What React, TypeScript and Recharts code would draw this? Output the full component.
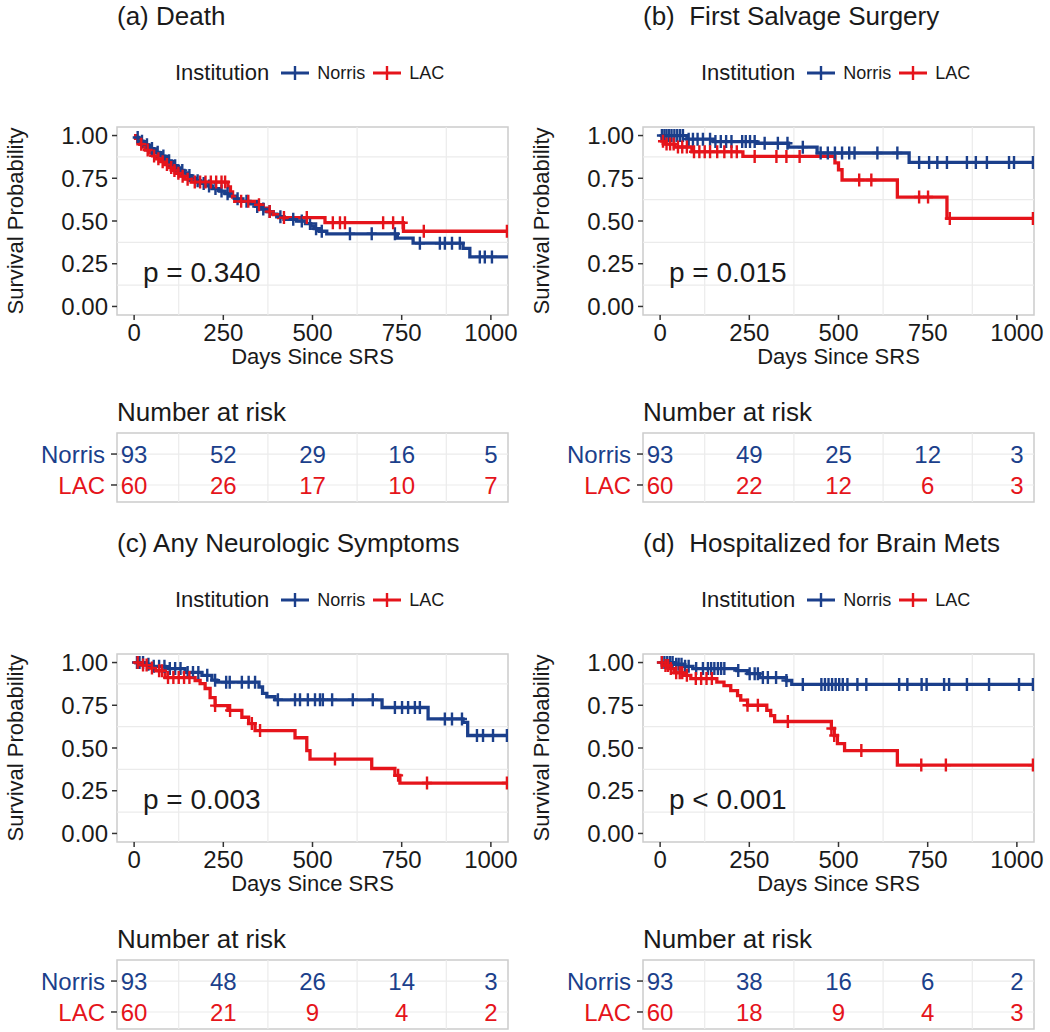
import React from 'react';
import {
  LineChart,
  Line,
  XAxis,
  YAxis,
  ReferenceLine,
  ReferenceArea,
  ScatterChart,
  Scatter,
} from 'recharts';

type Step = [number, number];

// axes
const DAY_TICKS = [0, 250, 500, 750, 1000];
const MINOR_DAYS = [125, 375, 625, 875];
const PROB_TICKS = [0, 0.25, 0.5, 0.75, 1];
const MINOR_PROB = [0.125, 0.375, 0.625, 0.875];
const RISK_TIMES = [0, 250, 500, 750, 1000];
const LAST_FOLLOW_UP = 1048;

// (a) Death
const deathNorrisSteps: Step[] = [
  [0, 1], [6, 0.989], [12, 0.978], [18, 0.967], [25, 0.957], [32, 0.946], [40, 0.935],
  [47, 0.924], [55, 0.913], [62, 0.902], [70, 0.891], [78, 0.88], [86, 0.866], [95, 0.852],
  [104, 0.838], [112, 0.824], [121, 0.81], [130, 0.796], [140, 0.781], [150, 0.766],
  [160, 0.751], [172, 0.736], [185, 0.72], [200, 0.705], [218, 0.69], [240, 0.675],
  [255, 0.66], [268, 0.645], [285, 0.63], [305, 0.615], [325, 0.6], [340, 0.585],
  [355, 0.57], [370, 0.555], [385, 0.54], [400, 0.525], [420, 0.51], [455, 0.5],
  [480, 0.485], [495, 0.47], [505, 0.455], [520, 0.44], [540, 0.425], [738, 0.4],
  [782, 0.37], [922, 0.34], [941, 0.29],
];
const deathNorrisCensors = [
  10, 22, 36, 50, 66, 82, 98, 115, 135, 155, 178, 195, 210, 228, 245, 262, 290, 315, 345,
  362, 380, 410, 446, 470, 493, 510, 526, 605, 666, 731, 801, 857, 871, 891, 913, 969, 983, 1003,
];
const deathLacSteps: Step[] = [
  [0, 1], [4, 0.983], [10, 0.966], [16, 0.949], [24, 0.932], [32, 0.915], [42, 0.898],
  [52, 0.881], [63, 0.864], [75, 0.847], [86, 0.83], [97, 0.813], [108, 0.796], [118, 0.779],
  [128, 0.762], [142, 0.745], [160, 0.728], [263, 0.7], [270, 0.67], [276, 0.64],
  [282, 0.615], [345, 0.595], [362, 0.575], [375, 0.555], [390, 0.537], [405, 0.52],
  [535, 0.49], [755, 0.44],
];
const deathLacCensors = [
  20, 38, 56, 68, 80, 92, 104, 113, 124, 136, 150, 170, 185, 200, 215, 230, 245, 255, 300,
  320, 350, 380, 420, 484, 557, 577, 591, 698, 726, 753, 812, 1045,
];
const deathRiskNorris = [93, 52, 29, 16, 5];
const deathRiskLac = [60, 26, 17, 10, 7];

// (b) First salvage surgery
const salvageNorrisSteps: Step[] = [
  [0, 1], [75, 0.979], [150, 0.965], [270, 0.955], [360, 0.932], [440, 0.898], [698, 0.843],
];
const salvageNorrisCensors = [
  5, 12, 18, 25, 32, 40, 48, 56, 64, 80, 92, 105, 120, 140, 155, 170, 185, 200, 230, 240,
  252, 265, 293, 330, 357, 400, 450, 470, 490, 510, 530, 545, 609, 665, 726, 754, 777, 804,
  860, 885, 916, 978, 992, 1045,
];
const salvageLacSteps: Step[] = [
  [0, 1], [5, 0.967], [15, 0.95], [40, 0.933], [89, 0.905], [232, 0.878], [490, 0.84],
  [500, 0.8], [510, 0.74], [665, 0.64], [804, 0.515],
];
const salvageLacCensors = [
  8, 18, 28, 38, 50, 62, 75, 95, 110, 125, 140, 160, 180, 200, 215, 265, 326, 354, 391, 558,
  592, 726, 751, 812, 1045,
];
const salvageRiskNorris = [93, 49, 25, 12, 3];
const salvageRiskLac = [60, 22, 12, 6, 3];

// (c) Any neurologic symptoms
const neuroNorrisSteps: Step[] = [
  [0, 1], [30, 0.99], [50, 0.978], [87, 0.965], [143, 0.942], [190, 0.925], [218, 0.897],
  [232, 0.885], [350, 0.857], [360, 0.82], [372, 0.8], [395, 0.782], [695, 0.737],
  [824, 0.67], [922, 0.65], [935, 0.573],
];
const neuroNorrisCensors = [
  8, 15, 25, 40, 55, 70, 85, 100, 115, 130, 150, 165, 180, 205, 227, 258, 268, 302, 321, 339,
  403, 451, 465, 487, 507, 521, 529, 555, 613, 669, 731, 751, 768, 787, 801, 871, 891, 919,
  961, 978, 1006, 1045,
];
const neuroLacSteps: Step[] = [
  [0, 1], [20, 0.985], [45, 0.968], [60, 0.952], [87, 0.912], [171, 0.895], [185, 0.877],
  [199, 0.848], [213, 0.795], [227, 0.748], [263, 0.72], [302, 0.68], [321, 0.643],
  [339, 0.602], [451, 0.56], [484, 0.485], [493, 0.435], [666, 0.38], [731, 0.34], [745, 0.295],
];
const neuroLacCensors = [
  10, 25, 35, 50, 70, 78, 95, 110, 125, 140, 155, 227, 269, 330, 353, 563, 740, 821, 1045,
];
const neuroRiskNorris = [93, 48, 26, 14, 3];
const neuroRiskLac = [60, 21, 9, 4, 2];

// (d) Hospitalized for brain mets
const hospNorrisSteps: Step[] = [
  [0, 1], [40, 0.99], [64, 0.978], [92, 0.965], [215, 0.953], [245, 0.935], [279, 0.912],
  [354, 0.895], [369, 0.872],
];
const hospNorrisCensors = [
  5, 12, 20, 28, 35, 45, 52, 60, 70, 80, 101, 120, 134, 143, 152, 162, 171, 180, 219, 251,
  265, 274, 288, 302, 325, 354, 400, 452, 462, 472, 482, 492, 502, 512, 525, 553, 578, 670,
  693, 733, 747, 796, 810, 860, 922, 1006, 1045,
];
const hospLacSteps: Step[] = [
  [0, 1], [10, 0.983], [25, 0.965], [39, 0.94], [67, 0.925], [86, 0.906], [159, 0.885],
  [179, 0.865], [198, 0.836], [217, 0.807], [226, 0.78], [245, 0.75], [299, 0.72],
  [310, 0.69], [321, 0.655], [480, 0.614], [488, 0.573], [497, 0.526], [517, 0.485], [665, 0.4],
];
const hospLacCensors = [
  5, 15, 22, 30, 45, 55, 62, 75, 100, 115, 130, 145, 245, 274, 358, 480, 488, 564, 732, 801, 1045,
];
const hospRiskNorris = [93, 38, 16, 6, 2];
const hospRiskLac = [60, 18, 9, 4, 3];

const BLUE = '#1B3F8B';
const RED = '#E5141B';
const FONT = '"Liberation Sans", Arial, sans-serif';
const TEXT = '#1a1a1a';
const GRID = '#EBEBEB';
const BORDER = '#CCCCCC';
const TICK = '#333333';

const X_DOMAIN: [number, number] = [-48, 1048];
const Y_DOMAIN: [number, number] = [-0.05, 1.05];

// KM value at time t (step lookup)
const survAt = (steps: Step[], t: number) => {
  let s = 1;
  for (const [st, sv] of steps) if (st <= t) s = sv;
  return s;
};

const buildCurve = (steps: Step[], censors: number[]) => {
  const pts = [
    ...steps.map(([t, s]) => ({ t, s, c: false })),
    ...censors.map((t) => ({ t, s: survAt(steps, t), c: true })),
  ];
  pts.push({ t: LAST_FOLLOW_UP, s: steps[steps.length - 1][1], c: false });
  return pts.sort((a, b) => a.t - b.t || Number(a.c) - Number(b.c));
};

const crossDot = (color: string) => (props: any) => {
  const { cx, cy, payload, index } = props;
  if (!payload || !payload.c || cx == null || cy == null) return <g key={`n-${index}`} />;
  return (
    <path
      key={`c-${index}`}
      d={`M${cx - 5},${cy}H${cx + 5}M${cx},${cy - 6.5}V${cy + 6.5}`}
      stroke={color}
      strokeWidth={2.4}
      fill="none"
    />
  );
};

const LegendKey = ({ color }: { color: string }) => (
  <svg width={28} height={14} style={{ display: 'block' }}>
    <line x1={0} y1={7} x2={28} y2={7} stroke={color} strokeWidth={3} />
    <line x1={14} y1={0} x2={14} y2={14} stroke={color} strokeWidth={2.4} />
  </svg>
);

type PanelProps = {
  left: number;
  top: number;
  title: string;
  pValue: string;
  norrisSteps: Step[];
  norrisCensors: number[];
  lacSteps: Step[];
  lacCensors: number[];
  riskNorris: number[];
  riskLac: number[];
};

const Panel = (p: PanelProps) => {
  const norris = buildCurve(p.norrisSteps, p.norrisCensors);
  const lac = buildCurve(p.lacSteps, p.lacCensors);
  const riskN = RISK_TIMES.map((t, i) => ({ t, row: 2, n: p.riskNorris[i] }));
  const riskL = RISK_TIMES.map((t, i) => ({ t, row: 1, n: p.riskLac[i] }));
  const tickStyle = { fontSize: 24, fill: TEXT, fontFamily: FONT };

  return (
    <div style={{ position: 'absolute', left: p.left, top: p.top, width: 525, height: 516 }}>
      <div
        style={{
          position: 'absolute', left: 117, top: 3, fontSize: 26, lineHeight: 1,
          whiteSpace: 'pre', color: TEXT,
        }}
      >
        {p.title}
      </div>

      <div
        style={{
          position: 'absolute', left: 175, top: 62, height: 22, display: 'flex',
          alignItems: 'center', whiteSpace: 'pre', color: TEXT,
        }}
      >
        <span style={{ fontSize: 22, lineHeight: 1, marginRight: 12 }}>Institution</span>
        <LegendKey color={BLUE} />
        <span style={{ fontSize: 18, lineHeight: 1, margin: '0 8px 0 8px' }}>Norris</span>
        <LegendKey color={RED} />
        <span style={{ fontSize: 18, lineHeight: 1, marginLeft: 8 }}>LAC</span>
      </div>

      <div style={{ position: 'absolute', left: 0, top: 0 }}>
        <LineChart width={525} height={375} margin={{ top: 127, right: 17, bottom: 0, left: 0 }}>
          <ReferenceArea
            x1={X_DOMAIN[0]} x2={X_DOMAIN[1]} y1={Y_DOMAIN[0]} y2={Y_DOMAIN[1]}
            fill="#fff" fillOpacity={1} stroke={BORDER} strokeWidth={1.5}
          />
          {MINOR_DAYS.map((v) => (
            <ReferenceLine key={`vx${v}`} x={v} stroke={GRID} strokeWidth={1.2} />
          ))}
          {MINOR_PROB.map((v) => (
            <ReferenceLine key={`hy${v}`} y={v} stroke={GRID} strokeWidth={1.2} />
          ))}
          <XAxis
            type="number"
            dataKey="t"
            domain={X_DOMAIN}
            ticks={DAY_TICKS}
            allowDataOverflow
            height={60}
            axisLine={false}
            tickSize={5}
            tickMargin={4}
            tickLine={{ stroke: TICK, strokeWidth: 1.5 }}
            tick={tickStyle}
            label={{
              value: 'Days Since SRS', position: 'insideTop', offset: 33,
              style: { fontSize: 22, fill: TEXT, fontFamily: FONT },
            }}
          />
          <YAxis
            type="number"
            domain={Y_DOMAIN}
            ticks={PROB_TICKS}
            allowDataOverflow
            width={117}
            axisLine={false}
            tickSize={5}
            tickMargin={4}
            tickLine={{ stroke: TICK, strokeWidth: 1.5 }}
            tick={tickStyle}
            tickFormatter={(v: number) => v.toFixed(2)}
            label={{
              value: 'Survival Probability', angle: -90, position: 'insideLeft', offset: 15,
              style: { fontSize: 22, fill: TEXT, fontFamily: FONT, textAnchor: 'middle' },
            }}
          />
          <Line
            data={norris}
            dataKey="s"
            type="stepAfter"
            stroke={BLUE}
            strokeWidth={3.3}
            dot={crossDot(BLUE)}
            activeDot={false}
            isAnimationActive={false}
          />
          <Line
            data={lac}
            dataKey="s"
            type="stepAfter"
            stroke={RED}
            strokeWidth={3.3}
            dot={crossDot(RED)}
            activeDot={false}
            isAnimationActive={false}
          />
        </LineChart>
      </div>

      <div
        style={{
          position: 'absolute', left: 143, top: 259, fontSize: 28, lineHeight: 1,
          color: TEXT, whiteSpace: 'pre',
        }}
      >
        {p.pValue}
      </div>

      <div
        style={{
          position: 'absolute', left: 117, top: 399, fontSize: 26, lineHeight: 1, color: TEXT,
        }}
      >
        Number at risk
      </div>

      <div style={{ position: 'absolute', left: 0, top: 420 }}>
        <ScatterChart width={525} height={85} margin={{ top: 13, right: 17, bottom: 3, left: 0 }}>
          <ReferenceArea
            x1={X_DOMAIN[0]} x2={X_DOMAIN[1]} y1={0.45} y2={2.68}
            fill="#fff" fillOpacity={1} stroke={BORDER} strokeWidth={1.5}
          />
          {MINOR_DAYS.map((v) => (
            <ReferenceLine key={`rx${v}`} x={v} stroke={GRID} strokeWidth={1.2} />
          ))}
          {[1, 2].map((v) => (
            <ReferenceLine key={`ry${v}`} y={v} stroke={GRID} strokeWidth={1.2} />
          ))}
          <XAxis type="number" dataKey="t" domain={X_DOMAIN} allowDataOverflow hide />
          <YAxis
            type="number"
            dataKey="row"
            domain={[0.45, 2.68]}
            ticks={[1, 2]}
            allowDataOverflow
            width={117}
            axisLine={false}
            tickSize={0}
            tickMargin={0}
            tickLine={false}
            tick={(tp: any) => (
              <g>
                <line x1={tp.x - 6} y1={tp.y} x2={tp.x} y2={tp.y} stroke={TICK} strokeWidth={1.5} />
                <text
                  x={tp.x - 12}
                  y={tp.y}
                  dy="0.36em"
                  textAnchor="end"
                  fontSize={24}
                  fontFamily={FONT}
                  fill={tp.payload.value === 2 ? BLUE : RED}
                >
                  {tp.payload.value === 2 ? 'Norris' : 'LAC'}
                </text>
              </g>
            )}
          />
          <Scatter
            data={riskN}
            isAnimationActive={false}
            shape={(sp: any) => (
              <text x={sp.cx} y={sp.cy} dy="0.36em" textAnchor="middle" fontSize={24}
                fontFamily={FONT} fill={BLUE}>
                {sp.payload.n}
              </text>
            )}
          />
          <Scatter
            data={riskL}
            isAnimationActive={false}
            shape={(sp: any) => (
              <text x={sp.cx} y={sp.cy} dy="0.36em" textAnchor="middle" fontSize={24}
                fontFamily={FONT} fill={RED}>
                {sp.payload.n}
              </text>
            )}
          />
        </ScatterChart>
      </div>
    </div>
  );
};

export default function App() {
  return (
    <div
      style={{
        position: 'absolute', left: 0, top: 0, width: 1050, height: 1032,
        background: '#fff', fontFamily: FONT, overflow: 'hidden',
      }}
    >
      <Panel
        left={0} top={0} title="(a) Death" pValue="p = 0.340"
        norrisSteps={deathNorrisSteps} norrisCensors={deathNorrisCensors}
        lacSteps={deathLacSteps} lacCensors={deathLacCensors}
        riskNorris={deathRiskNorris} riskLac={deathRiskLac}
      />
      <Panel
        left={526} top={0} title="(b)  First Salvage Surgery" pValue="p = 0.015"
        norrisSteps={salvageNorrisSteps} norrisCensors={salvageNorrisCensors}
        lacSteps={salvageLacSteps} lacCensors={salvageLacCensors}
        riskNorris={salvageRiskNorris} riskLac={salvageRiskLac}
      />
      <Panel
        left={0} top={527} title="(c) Any Neurologic Symptoms" pValue="p = 0.003"
        norrisSteps={neuroNorrisSteps} norrisCensors={neuroNorrisCensors}
        lacSteps={neuroLacSteps} lacCensors={neuroLacCensors}
        riskNorris={neuroRiskNorris} riskLac={neuroRiskLac}
      />
      <Panel
        left={526} top={527} title="(d)  Hospitalized for Brain Mets" pValue="p < 0.001"
        norrisSteps={hospNorrisSteps} norrisCensors={hospNorrisCensors}
        lacSteps={hospLacSteps} lacCensors={hospLacCensors}
        riskNorris={hospRiskNorris} riskLac={hospRiskLac}
      />
    </div>
  );
}
